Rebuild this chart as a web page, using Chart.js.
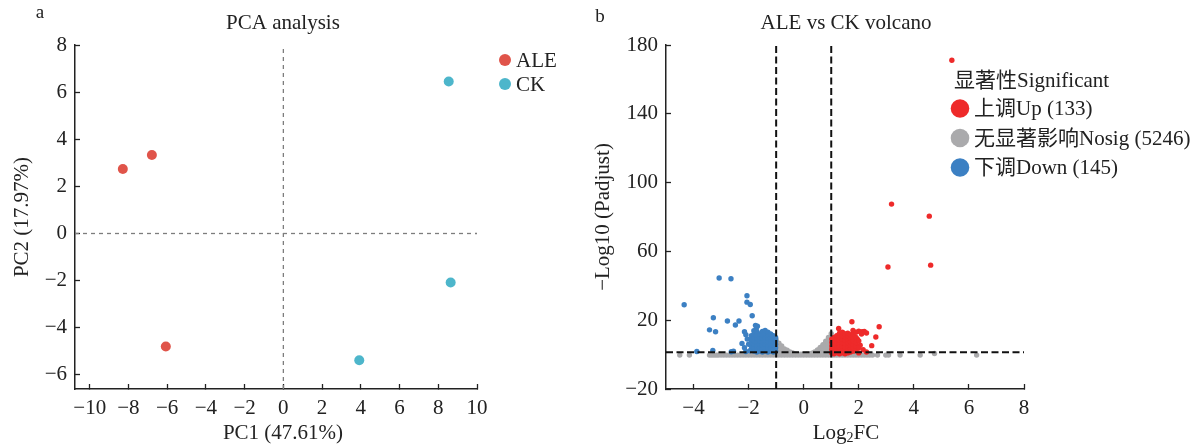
<!DOCTYPE html>
<html>
<head>
<meta charset="utf-8">
<script src="https://cdn.jsdelivr.net/npm/chart.js@4.4.1/dist/chart.umd.min.js"></script>
<style>
  html, body { margin: 0; padding: 0; background: #fff; }
  #wrap { position: relative; width: 1200px; height: 447px; }
  #wrap canvas { position: absolute; left: 0; top: 0; }
</style>
</head>
<body>
<div id="wrap">
  <canvas id="pca" width="1200" height="447"></canvas>
  <canvas id="volcano" width="1200" height="447"></canvas>
</div>
<script>
// ---- PCA scores (PC1, PC2) ----
const aleScores = [[-8.29, 2.74], [-6.79, 3.33], [-6.07, -4.80]];
const ckScores  = [[8.54, 6.45], [8.64, -2.08], [3.92, -5.38]];
const pcaXTicks = [-10, -8, -6, -4, -2, 0, 2, 4, 6, 8, 10];
const pcaYTicks = [-6, -4, -2, 0, 2, 4, 6, 8];

// ---- volcano: [log2FC, -log10(padj)] ----
const upGenes = [
  [5.38, 171.1], [3.19, 87.5], [4.56, 80.5], [3.06, 50.9], [4.61, 52.0],
  [1.75, 19.1], [2.74, 16.2], [1.27, 15.2], [2.62, 10.2], [2.47, 5.2], [1.79, 14.0],
  [2.12, 13.3], [2.28, 12.6], [1.43, 12.6], [2.0, 13.6], [2.2, 13.4], [2.16, 2.8],
  [2.28, 1.5], [2.05, 5.5], [1.95, 9.0], [2.1, 12.0],
  [1.02, 1.0], [1.02, 3.0], [1.02, 5.0], [1.02, 7.0], [1.02, 9.0],
  [1.1, 0.5], [1.1, 2.5], [1.1, 4.5], [1.1, 6.5], [1.1, 8.5], [1.1, 10.0],
  [1.2, 1.0], [1.2, 3.0], [1.2, 5.0], [1.2, 7.0], [1.2, 9.0], [1.2, 11.0],
  [1.3, 0.5], [1.3, 2.5], [1.3, 4.5], [1.3, 6.5], [1.3, 8.5], [1.3, 10.5], [1.3, 12.5],
  [1.4, 1.0], [1.4, 3.0], [1.4, 5.0], [1.4, 7.0], [1.4, 9.0], [1.4, 11.0], [1.4, 13.0],
  [1.5, 0.5], [1.5, 2.5], [1.5, 4.5], [1.5, 6.5], [1.5, 8.5], [1.5, 10.5], [1.5, 12.0],
  [1.6, 1.0], [1.6, 3.0], [1.6, 5.0], [1.6, 7.0], [1.6, 9.0], [1.6, 11.0], [1.6, 12.5],
  [1.7, 1.5], [1.7, 3.5], [1.7, 5.5], [1.7, 7.5], [1.7, 9.5], [1.7, 11.5],
  [1.8, 2.0], [1.8, 4.0], [1.8, 6.0], [1.8, 8.0], [1.8, 10.0], [1.8, 12.0],
  [1.9, 3.0], [1.9, 5.0], [1.9, 7.0], [1.9, 10.0], [1.9, 13.0],
  [2.0, 1.0], [2.0, 4.0], [2.0, 8.0]
];

const downGenes = [
  [-4.34, 29.0], [-3.07, 44.5], [-2.64, 44.1], [-2.06, 34.2], [-2.06, 30.5], [-1.94, 29.1],
  [-1.87, 22.6], [-3.28, 21.4], [-2.77, 19.5], [-2.35, 19.5], [-2.48, 17.2], [-3.42, 14.4],
  [-3.2, 13.3], [-2.15, 13.3], [-1.72, 15.4], [-1.81, 13.9], [-2.24, 6.5], [-3.88, 1.8],
  [-3.3, 2.4], [-2.63, 1.7], [-2.55, 2.0], [-2.1, 1.8], [-1.95, 2.2], [-1.68, 16.5], [-1.75, 17.0],
  [-2.05, 9.0], [-2.1, 11.5], [-2.0, 6.0], [-2.15, 4.0],
  [-1.9, 3.0], [-1.9, 5.0], [-1.9, 7.0], [-1.9, 9.0], [-1.9, 11.0],
  [-1.8, 2.0], [-1.8, 4.0], [-1.8, 6.0], [-1.8, 8.0], [-1.8, 10.0], [-1.8, 12.0],
  [-1.7, 1.5], [-1.7, 3.5], [-1.7, 5.5], [-1.7, 7.5], [-1.7, 9.5], [-1.7, 11.5], [-1.7, 13.5],
  [-1.6, 2.0], [-1.6, 4.0], [-1.6, 6.0], [-1.6, 8.0], [-1.6, 10.0], [-1.6, 12.0],
  [-1.5, 1.5], [-1.5, 3.5], [-1.5, 5.5], [-1.5, 7.5], [-1.5, 9.5], [-1.5, 11.5], [-1.5, 13.5],
  [-1.4, 2.0], [-1.4, 4.0], [-1.4, 6.0], [-1.4, 8.0], [-1.4, 10.0], [-1.4, 12.0], [-1.4, 14.0],
  [-1.3, 1.5], [-1.3, 3.5], [-1.3, 5.5], [-1.3, 7.5], [-1.3, 9.5], [-1.3, 11.5], [-1.3, 13.0],
  [-1.2, 2.0], [-1.2, 4.0], [-1.2, 6.0], [-1.2, 8.0], [-1.2, 10.0], [-1.2, 12.0],
  [-1.1, 1.5], [-1.1, 3.5], [-1.1, 5.5], [-1.1, 7.5], [-1.1, 9.5], [-1.1, 11.0],
  [-1.02, 2.0], [-1.02, 4.0], [-1.02, 6.0], [-1.02, 8.0], [-1.02, 10.0]
];

const nosigGenes = [
  // bottom row
  [-4.5, -0.3], [-4.15, -0.3], [-3.42, -0.3], [-3.34, -0.3], [-3.26, -0.3], [-3.18, -0.3],
  [-3.1, -0.3], [-3.0, -0.3], [-2.9, -0.3], [-2.8, -0.3], [-2.7, -0.3], [-2.6, -0.3],
  [-2.5, -0.3], [-2.4, -0.3], [-2.3, -0.3], [-2.2, -0.3], [-2.1, -0.3], [-2.0, -0.3],
  [-1.9, -0.3], [-1.8, -0.3], [-1.7, -0.3], [-1.6, -0.3], [-1.5, -0.3], [-1.4, -0.3],
  [-1.3, -0.3], [-1.2, -0.3], [-1.1, -0.3],
  [1.1, -0.3], [1.2, -0.3], [1.3, -0.3], [1.4, -0.3], [1.5, -0.3], [1.6, -0.3],
  [1.7, -0.3], [1.8, -0.3], [1.9, -0.3], [2.0, -0.3], [2.1, -0.3], [2.2, -0.3],
  [2.3, -0.3], [2.4, -0.3], [2.5, -0.3], [2.68, -0.3], [2.98, -0.3], [3.08, -0.3],
  [3.5, -0.3], [4.23, -0.3], [4.75, 0.6], [6.28, -0.3],
  // the mound between the fold-change cut-offs
  [-1.0, -0.3], [-1.0, 1.5], [-1.0, 3.3], [-1.0, 5.1], [-1.0, 6.9], [-1.0, 8.7],
  [-0.9, -0.3], [-0.9, 1.5], [-0.9, 3.3], [-0.9, 5.1], [-0.9, 6.6],
  [-0.8, -0.3], [-0.8, 1.5], [-0.8, 3.3], [-0.8, 5.0],
  [-0.7, -0.3], [-0.7, 1.5], [-0.7, 3.3],
  [-0.6, -0.3], [-0.6, 1.5], [-0.6, 2.6],
  [-0.5, -0.3], [-0.5, 1.5],
  [-0.4, -0.3], [-0.4, 0.9],
  [-0.3, -0.3], [-0.3, 0.4],
  [-0.2, -0.3], [-0.2, 0.3], [-0.1, -0.3], [-0.1, 0.3], [0.0, -0.3], [0.0, 0.3],
  [0.1, -0.3], [0.1, 0.3], [0.2, -0.3], [0.2, 0.3],
  [0.3, -0.3], [0.3, 0.8],
  [0.4, -0.3], [0.4, 1.5],
  [0.5, -0.3], [0.5, 1.5], [0.5, 2.7],
  [0.6, -0.3], [0.6, 1.5], [0.6, 3.3], [0.6, 4.2],
  [0.7, -0.3], [0.7, 1.5], [0.7, 3.3], [0.7, 5.1], [0.7, 5.8],
  [0.8, -0.3], [0.8, 1.5], [0.8, 3.3], [0.8, 5.1], [0.8, 6.9], [0.8, 7.8],
  [0.9, -0.3], [0.9, 1.5], [0.9, 3.3], [0.9, 5.1], [0.9, 6.9], [0.9, 8.7], [0.9, 10.0],
  [1.0, -0.3], [1.0, 1.5], [1.0, 3.3], [1.0, 5.1], [1.0, 6.9], [1.0, 8.7], [1.0, 10.5], [1.0, 12.2]
];

const volXTicks = [-4, -2, 0, 2, 4, 6, 8];
const volYTicks = [-20, 20, 60, 100, 140, 180];
const fcCutoff = 1;            // |log2FC| threshold
const padjCutoff = 1.3;        // -log10(0.05)

const FONT = '"Liberation Serif", "Noto Sans CJK SC", serif';
const INK = '#222';

const toXY = arr => arr.map(([x, y]) => ({ x, y }));
const minusFmt = v => (v < 0 ? '\u2212' + Math.abs(v) : String(v));

// shared axis look: left/bottom spines, short inward ticks
function axis(min, max, tickValues, fitSize, horizontal) {
  return {
    type: 'linear',
    min, max,
    afterBuildTicks: s => { s.ticks = tickValues.map(v => ({ value: v })); },
    afterFit: s => { if (horizontal) s.height = fitSize; else s.width = fitSize; },
    grid: { drawOnChartArea: false, drawTicks: true, tickLength: -5, tickColor: INK, tickWidth: 1.3 },
    border: { display: true, color: INK, width: 1.5 },
    ticks: {
      font: { family: FONT, size: 21 },
      color: INK,
      padding: horizontal ? 12 : 13,
      callback: minusFmt
    }
  };
}

function refLine(points, color, dash, width) {
  return {
    type: 'scatter', data: toXY(points), showLine: true,
    borderColor: color, borderDash: dash, borderWidth: width,
    pointRadius: 0, fill: false, order: 0
  };
}

// titles, axis titles and panel letters
function textPlugin(items) {
  return {
    id: 'panelText',
    afterDraw(chart) {
      const ctx = chart.ctx;
      ctx.save();
      ctx.fillStyle = INK;
      ctx.textBaseline = 'middle';
      items.forEach(it => {
        ctx.save();
        ctx.translate(it.x, it.y);
        if (it.rotate) ctx.rotate(-Math.PI / 2);
        if (it.parts) {
          // text with a subscript piece
          let w = 0;
          it.parts.forEach(p => { ctx.font = (p.size || 21) + 'px ' + FONT; w += ctx.measureText(p.t).width; });
          let cx = -w / 2;
          ctx.textAlign = 'left';
          it.parts.forEach(p => {
            ctx.font = (p.size || 21) + 'px ' + FONT;
            ctx.fillText(p.t, cx, p.dy || 0);
            cx += ctx.measureText(p.t).width;
          });
        } else {
          ctx.font = (it.size || 21) + 'px ' + FONT;
          ctx.textAlign = it.align || 'center';
          ctx.fillText(it.text, 0, 0);
        }
        ctx.restore();
      });
      ctx.restore();
    }
  };
}

// legend beside the plot area, built from the dataset labels and colours
function sideLegend(cfg) {
  return {
    id: 'sideLegend',
    afterDraw(chart) {
      const ctx = chart.ctx;
      ctx.save();
      ctx.fillStyle = INK;
      ctx.textBaseline = 'middle';
      ctx.textAlign = 'left';
      ctx.font = '21px ' + FONT;
      if (cfg.title) ctx.fillText(cfg.title, cfg.titleX, cfg.titleY);
      cfg.datasets.forEach((di, i) => {
        const ds = chart.data.datasets[di];
        const y = cfg.y0 + i * cfg.dy;
        ctx.beginPath();
        ctx.arc(cfg.x, y, cfg.r, 0, Math.PI * 2);
        ctx.fillStyle = ds.backgroundColor;
        ctx.fill();
        ctx.fillStyle = INK;
        ctx.fillText(ds.label, cfg.x + cfg.textGap, y + 1);
      });
      ctx.restore();
    }
  };
}

// ---- panel a: PCA ----
new Chart(document.getElementById('pca'), {
  type: 'scatter',
  data: {
    datasets: [
      { label: 'ALE', data: toXY(aleScores), backgroundColor: '#E0544A', borderWidth: 0, pointRadius: 5, order: 1 },
      { label: 'CK', data: toXY(ckScores), backgroundColor: '#4DB6CB', borderWidth: 0, pointRadius: 5, order: 1 },
      refLine([[0, -6.6], [0, 8]], '#7d7d7d', [4, 4], 1.3),
      refLine([[-10.76, 0], [10, 0]], '#7d7d7d', [4, 4], 1.3)
    ]
  },
  options: {
    responsive: false, animation: false, devicePixelRatio: 1,
    layout: { padding: { left: 0, right: 723, top: 45, bottom: 0 } },
    plugins: { legend: { display: false }, tooltip: { enabled: false } },
    scales: {
      x: axis(-10.76, 10, pcaXTicks, 58, true),
      y: axis(-6.6, 8, pcaYTicks, 75, false)
    }
  },
  plugins: [
    textPlugin([
      { text: 'a', x: 40, y: 13, size: 19 },
      { text: 'PCA analysis', x: 283, y: 23 },
      { text: 'PC1 (47.61%)', x: 283, y: 433 },
      { text: 'PC2 (17.97%)', x: 22, y: 217, rotate: true }
    ]),
    sideLegend({ datasets: [0, 1], x: 505, y0: 60, dy: 24, r: 6, textGap: 11 })
  ]
});

// ---- panel b: volcano ----
new Chart(document.getElementById('volcano'), {
  type: 'scatter',
  data: {
    datasets: [
      { label: '上调Up (133)', data: toXY(upGenes), backgroundColor: '#EE2A2A', borderWidth: 0, pointRadius: 2.7, order: 1 },
      { label: '无显著影响Nosig (5246)', data: toXY(nosigGenes), backgroundColor: '#AAAAAC', borderWidth: 0, pointRadius: 2.7, order: 2 },
      { label: '下调Down (145)', data: toXY(downGenes), backgroundColor: '#3C80C3', borderWidth: 0, pointRadius: 2.7, order: 1 },
      refLine([[-fcCutoff, -20], [-fcCutoff, 180]], '#111', [7, 3.5], 2),
      refLine([[fcCutoff, -20], [fcCutoff, 180]], '#111', [7, 3.5], 2),
      refLine([[-5, padjCutoff], [8, padjCutoff]], '#111', [7, 3.5], 2)
    ]
  },
  options: {
    responsive: false, animation: false, devicePixelRatio: 1,
    layout: { padding: { left: 600, right: 176, top: 45, bottom: 0 } },
    plugins: { legend: { display: false }, tooltip: { enabled: false } },
    scales: {
      x: axis(-5, 8, volXTicks, 58, true),
      y: axis(-20, 180, volYTicks, 66, false)
    }
  },
  plugins: [
    textPlugin([
      { text: 'b', x: 600, y: 17, size: 19 },
      { text: 'ALE vs CK volcano', x: 846, y: 23 },
      { parts: [{ t: 'Log' }, { t: '2', size: 14, dy: 5 }, { t: 'FC' }], x: 846, y: 433 },
      { text: '\u2212Log10 (Padjust)', x: 603, y: 217, rotate: true }
    ]),
    sideLegend({ title: '显著性Significant', titleX: 954, titleY: 81,
                 datasets: [0, 1, 2], x: 960, y0: 108.5, dy: 29.5, r: 9.3, textGap: 14 })
  ]
});
</script>
</body>
</html>
